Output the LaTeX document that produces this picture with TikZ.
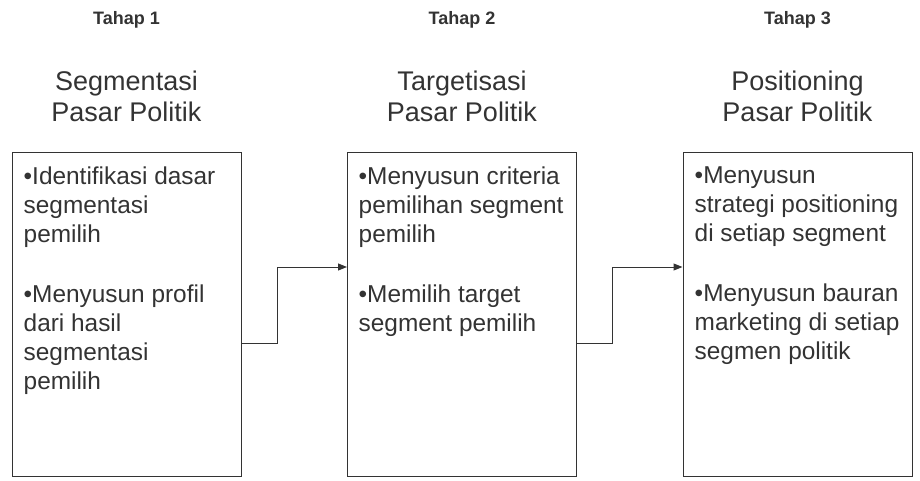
\documentclass[tikz,border=0pt]{standalone}
\usepackage{fontspec}
\setmainfont{Liberation Sans}
\usetikzlibrary{arrows.meta}
\definecolor{ink}{HTML}{333333}
\begin{document}
\begin{tikzpicture}[x=1pt,y=-1pt,
  box/.style={draw=ink, line width=1pt, minimum width=229pt, minimum height=323pt, inner sep=0pt},
  stage/.style={text=ink, font=\fontsize{18}{21}\selectfont\bfseries, anchor=base, inner sep=0pt},
  title/.style={text=ink, font=\fontsize{27}{31}\selectfont, align=center, anchor=north, inner sep=0pt},
  body/.style={text=ink, font=\fontsize{24.4}{29}\selectfont, align=left, anchor=north west, inner sep=0pt},
  conn/.style={draw=ink, line width=1pt, -{Triangle[length=9pt,width=7pt]}}
]
\useasboundingbox (0,0) rectangle (920,481);

\node[box] (b1) at (126.5,314.5) {};
\node[box] (b2) at (462,314.5) {};
\node[box] (b3) at (797.5,314.5) {};

\node[stage] (s1) at (126.5,25) {Tahap 1};
\node[stage] (s2) at (462,25) {Tahap 2};
\node[stage] (s3) at (797.5,25) {Tahap 3};

\node[title] (t1) at (126.5,71) {Segmentasi\\Pasar Politik};
\node[title] (t2) at (462,71) {Targetisasi\\Pasar Politik};
\node[title] (t3) at (797.5,71) {Positioning\\Pasar Politik};

\node[body] (x1) at (23.5,167) {•Identifikasi dasar\\segmentasi\\pemilih\\[31pt]•Menyusun profil\\dari hasil\\segmentasi\\pemilih};
\node[body] (x2) at (358.5,167) {•Menyusun criteria\\pemilihan segment\\pemilih\\[31pt]•Memilih target\\segment pemilih};
\node[body] (x3) at (694.5,167) {•Menyusun\\strategi positioning\\di setiap segment\\[31pt]•Menyusun bauran\\marketing di setiap\\segmen politik};

\draw[conn] ([yshift=-28.5pt]b1.east) -- ++(36,0) |- ([yshift=47.5pt]b2.west);
\draw[conn] ([yshift=-28.5pt]b2.east) -- ++(35,0) |- ([yshift=47.5pt]b3.west);
\end{tikzpicture}
\end{document}
